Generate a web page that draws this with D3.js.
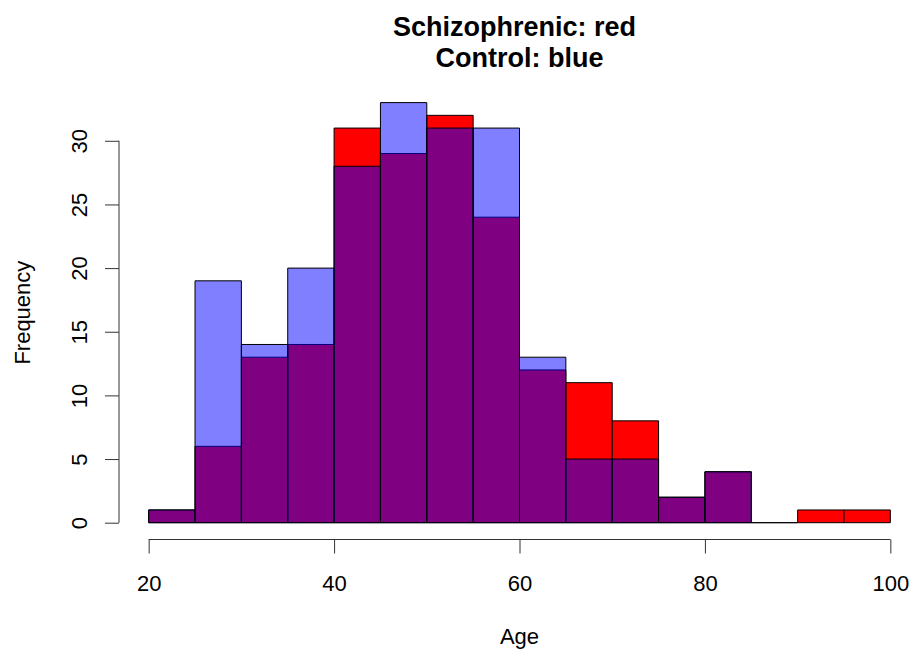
<!DOCTYPE html>
<html lang="en">
<head>
    <meta charset="UTF-8">
    <title>Age histogram</title>
    <script src="https://d3js.org/d3.v7.min.js"></script>
    <style>
        body { margin: 0; background: #fff; }
        text { font-family: "Liberation Sans", Arial, Helvetica, sans-serif; fill: #000; }
    </style>
</head>
<body>
    <div id="chart"></div>
    <script>
        // bin edges (width 5) and counts per group
        const breaks = [20, 25, 30, 35, 40, 45, 50, 55, 60, 65, 70, 75, 80, 85, 90, 95, 100];
        const schizoCounts = [1, 6, 13, 14, 31, 29, 32, 24, 12, 11, 8, 2, 4, 0, 1, 1];
        const controlCounts = [1, 19, 14, 20, 28, 33, 31, 31, 13, 5, 5, 2, 4];
        const xTicks = [20, 40, 60, 80, 100];
        const yTicks = [0, 5, 10, 15, 20, 25, 30];

        const width = 912, height = 650;
        // plot region like R's usr (data range + 4%)
        const plot = { left: 119, right: 920, top: 85.8, bottom: 539.5 };

        const svg = d3.select("#chart").append("svg")
            .attr("width", width)
            .attr("height", height);

        const x = d3.scaleLinear()
            .domain([16.8, 103.2])
            .range([plot.left, plot.right]);

        const y = d3.scaleLinear()
            .domain([-1.32, 34.32])
            .range([plot.bottom, plot.top]);

        function bins(counts) {
            return counts.map((c, i) => ({ x0: breaks[i], x1: breaks[i + 1], count: c }));
        }

        // schizophrenic first (opaque red), control drawn over it half transparent
        const series = [
            { name: "schizo", data: bins(schizoCounts), fill: "#ff0000" },
            { name: "control", data: bins(controlCounts), fill: "rgba(0,0,255,0.5)" }
        ];

        // paths instead of rects so empty bins still show their outline
        series.forEach(s => {
            svg.append("g")
                .attr("class", s.name)
                .selectAll("path")
                .data(s.data)
                .join("path")
                .attr("d", d => `M${x(d.x0)},${y(0)}H${x(d.x1)}V${y(d.count)}H${x(d.x0)}Z`)
                .attr("fill", s.fill)
                .attr("stroke", "#000")
                .attr("stroke-width", 1);
        });

        // x axis
        const xAxis = svg.append("g")
            .attr("transform", `translate(0,${plot.bottom})`)
            .call(d3.axisBottom(x).tickValues(xTicks).tickSize(14).tickFormat(d3.format("d")));
        xAxis.select(".domain")
            .attr("d", `M${x(xTicks[0])},0H${x(xTicks[xTicks.length - 1])}`);
        xAxis.selectAll("line, .domain").attr("stroke", "#333");
        xAxis.selectAll("text")
            .attr("dy", null)
            .attr("y", 51)
            .style("font-size", "22px")
            .style("font-family", "'Liberation Sans', Arial, sans-serif");

        // y axis, labels parallel to axis
        const yAxis = svg.append("g")
            .attr("transform", `translate(${plot.left},0)`)
            .call(d3.axisLeft(y).tickValues(yTicks).tickSize(14).tickFormat(d3.format("d")));
        yAxis.select(".domain")
            .attr("d", `M0,${y(yTicks[0])}V${y(yTicks[yTicks.length - 1])}`);
        yAxis.selectAll("line, .domain").attr("stroke", "#333");
        yAxis.selectAll("text")
            .attr("x", null)
            .attr("dy", null)
            .attr("transform", "translate(-32,0) rotate(-90)")
            .attr("text-anchor", "middle")
            .style("font-size", "22px")
            .style("font-family", "'Liberation Sans', Arial, sans-serif");

        // axis titles
        svg.append("text")
            .attr("x", (plot.left + plot.right) / 2)
            .attr("y", 644)
            .attr("text-anchor", "middle")
            .style("font-size", "22px")
            .text("Age");

        svg.append("text")
            .attr("transform", `translate(29.5,${(plot.top + plot.bottom) / 2}) rotate(-90)`)
            .attr("text-anchor", "middle")
            .style("font-size", "22px")
            .text("Frequency");

        // two line bold title
        const title = svg.append("text")
            .attr("text-anchor", "middle")
            .style("font-size", "27px")
            .style("font-weight", "bold");
        title.append("tspan")
            .attr("x", (plot.left + plot.right) / 2 - 5)
            .attr("y", 36)
            .text("Schizophrenic: red");
        title.append("tspan")
            .attr("x", (plot.left + plot.right) / 2)
            .attr("y", 66.7)
            .text("Control: blue");
    </script>
</body>
</html>
